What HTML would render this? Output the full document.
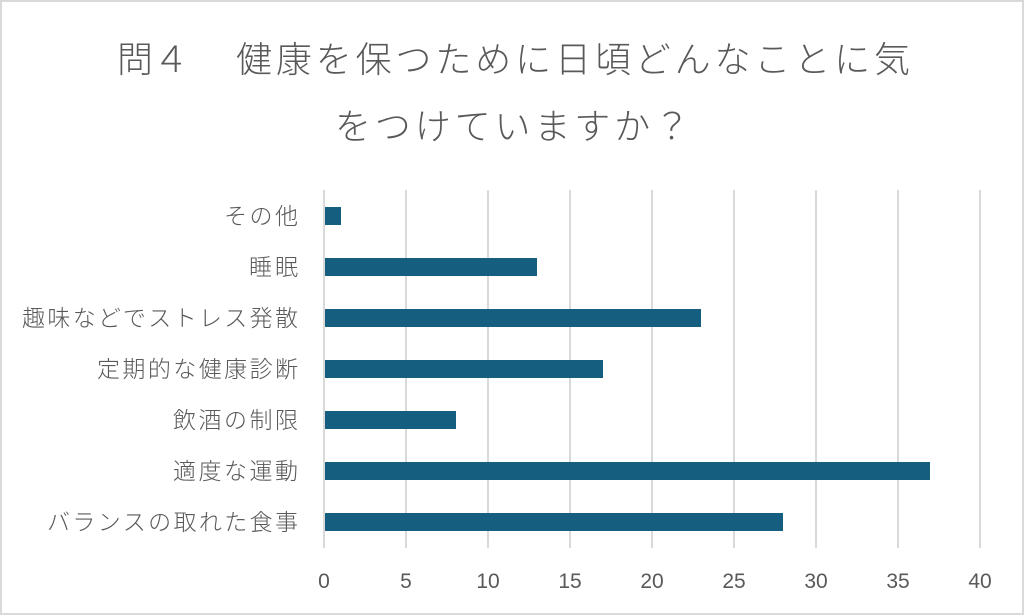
<!DOCTYPE html>
<html><head><meta charset="utf-8"><style>
html,body{margin:0;padding:0;background:#fff}
svg{display:block}
text{font-family:"Liberation Sans","Noto Sans CJK JP",sans-serif;fill:#595959}
.t{font-family:"Noto Sans CJK JP",sans-serif;font-weight:300;font-size:36px}
.c{font-family:"Noto Sans CJK JP",sans-serif;font-weight:300;font-size:23px}
.n{font-size:21px}
</style></head><body>
<svg width="1024" height="615" xmlns="http://www.w3.org/2000/svg">
<rect x="1" y="1" width="1022" height="613" fill="#fff" stroke="#d9d9d9" stroke-width="2"/>
<text class="t" x="117" y="72">問４</text>
<text class="t" x="236" y="72" textLength="674">健康を保つために日頃どんなことに気</text>
<text class="t" x="335" y="139" textLength="355">をつけていますか？</text>
<g stroke="#d9d9d9" stroke-width="2">
<line x1="324" y1="190" x2="324" y2="548"/>
<line x1="406" y1="190" x2="406" y2="548"/>
<line x1="488" y1="190" x2="488" y2="548"/>
<line x1="570" y1="190" x2="570" y2="548"/>
<line x1="652" y1="190" x2="652" y2="548"/>
<line x1="734" y1="190" x2="734" y2="548"/>
<line x1="816" y1="190" x2="816" y2="548"/>
<line x1="898" y1="190" x2="898" y2="548"/>
<line x1="980" y1="190" x2="980" y2="548"/>
</g>
<g fill="#165e7f">
<rect x="325" y="207" width="16" height="18"/>
<rect x="325" y="258" width="212" height="18"/>
<rect x="325" y="309" width="376" height="18"/>
<rect x="325" y="360" width="278" height="18"/>
<rect x="325" y="411" width="131" height="18"/>
<rect x="325" y="462" width="605" height="18"/>
<rect x="325" y="513" width="458" height="18"/>
</g>
<g>
<text class="c" x="224" y="224" textLength="74">その他</text>
<text class="c" x="249" y="275" textLength="49">睡眠</text>
<text class="c" x="22" y="326" textLength="276">趣味などでストレス発散</text>
<text class="c" x="97" y="377" textLength="201">定期的な健康診断</text>
<text class="c" x="173" y="428" textLength="125">飲酒の制限</text>
<text class="c" x="173" y="479" textLength="125">適度な運動</text>
<text class="c" x="47" y="530" textLength="251">バランスの取れた食事</text>
</g>
<g text-anchor="middle">
<text class="n" x="324" y="588">0</text>
<text class="n" x="406" y="588">5</text>
<text class="n" x="488" y="588">10</text>
<text class="n" x="570" y="588">15</text>
<text class="n" x="652" y="588">20</text>
<text class="n" x="734" y="588">25</text>
<text class="n" x="816" y="588">30</text>
<text class="n" x="898" y="588">35</text>
<text class="n" x="980" y="588">40</text>
</g>
</svg>
</body></html>
